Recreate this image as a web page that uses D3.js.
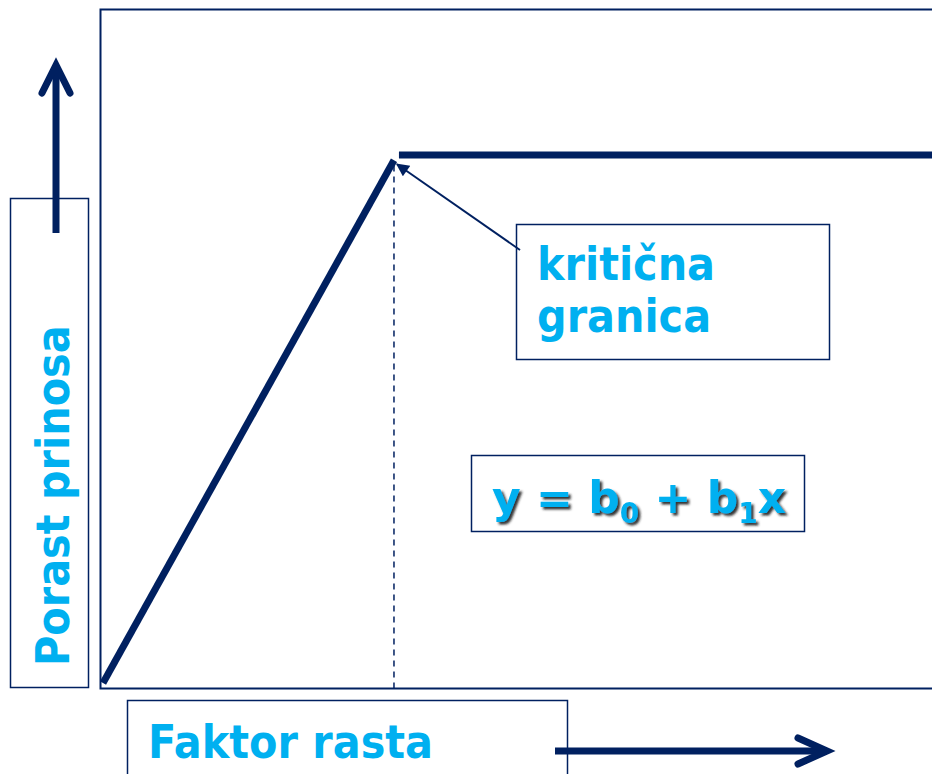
<!DOCTYPE html>
<html>
<head>
<meta charset="utf-8">
<script src="https://cdn.jsdelivr.net/npm/d3@7"></script>
<style>
  body { margin: 0; background: #fff; }
  svg { display: block; }
</style>
</head>
<body>
<svg id="chart" width="932" height="774"></svg>
<script>
// data, in relative units (0..100 on both axes)
var risePoints = [[0, 0], [35.1, 99]];
var plateauPoints = [[35.7, 100], [100, 100]];
var criticalX = 35.1;
var axisLabels = ['Porast prinosa', 'Faktor rasta'];
var noteLines = ['kritična', 'granica'];

var navy = '#002060';
var cyan = '#00b0f0';
var font = 'DejaVu Sans, Verdana, sans-serif';

var svg = d3.select('#chart');

var xScale = d3.scaleLinear().domain([0, 100]).range([103, 932]);
var yScale = d3.scaleLinear().domain([0, 100]).range([683, 155]);

var line = d3.line()
  .x(d => xScale(d[0]))
  .y(d => yScale(d[1]));

var defs = svg.append('defs');
defs.append('marker')
  .attr('id', 'head')
  .attr('viewBox', '0 0 10 10')
  .attr('refX', 9)
  .attr('refY', 5)
  .attr('markerWidth', 15)
  .attr('markerHeight', 13)
  .attr('markerUnits', 'userSpaceOnUse')
  .attr('orient', 'auto')
  .append('path')
  .attr('d', 'M0,0 L10,5 L0,10 z')
  .attr('fill', navy);

var shadow = defs.append('filter').attr('id', 'shadow')
  .attr('x', '-5%').attr('y', '-10%').attr('width', '115%').attr('height', '130%');
shadow.append('feDropShadow')
  .attr('dx', 2.5).attr('dy', 2.5).attr('stdDeviation', 0.8)
  .attr('flood-color', '#1a1a1a').attr('flood-opacity', 0.9);

// bold cyan label, slightly narrowed like the original face
function label(x, y, rot, size, txt) {
  return svg.append('text')
    .attr('transform', `translate(${x},${y}) rotate(${rot}) scale(0.9,1)`)
    .attr('font-family', font)
    .attr('font-weight', 'bold')
    .attr('font-size', size)
    .attr('fill', cyan)
    .text(txt);
}

// plot frame
svg.append('rect')
  .attr('x', 100.5).attr('y', 9.5)
  .attr('width', 850).attr('height', 679)
  .attr('fill', 'none').attr('stroke', navy).attr('stroke-width', 2);

// y label box
svg.append('rect')
  .attr('x', 10.5).attr('y', 198.5)
  .attr('width', 78).attr('height', 489)
  .attr('fill', 'none').attr('stroke', navy).attr('stroke-width', 1.5);

label(69, 666, -90, 46, axisLabels[0]);

// up arrow
svg.append('line')
  .attr('x1', 56).attr('y1', 233).attr('x2', 56).attr('y2', 66)
  .attr('stroke', navy).attr('stroke-width', 7);
svg.append('path')
  .attr('d', 'M42,93 L56,65 L70,93')
  .attr('fill', 'none').attr('stroke', navy).attr('stroke-width', 7)
  .attr('stroke-linecap', 'round');

// x label box
svg.append('rect')
  .attr('x', 127.5).attr('y', 700.5)
  .attr('width', 440).attr('height', 90)
  .attr('fill', 'none').attr('stroke', navy).attr('stroke-width', 1.5);

label(148, 758, 0, 46, axisLabels[1]);

// right arrow
svg.append('line')
  .attr('x1', 555).attr('y1', 751).attr('x2', 826).attr('y2', 751)
  .attr('stroke', navy).attr('stroke-width', 7);
svg.append('path')
  .attr('d', 'M798,738 L827,751 L798,764')
  .attr('fill', 'none').attr('stroke', navy).attr('stroke-width', 7)
  .attr('stroke-linecap', 'round');

// dashed critical line
svg.append('line')
  .attr('x1', xScale(criticalX)).attr('x2', xScale(criticalX))
  .attr('y1', yScale(98)).attr('y2', yScale(0) + 5)
  .attr('stroke', navy).attr('stroke-width', 1.5)
  .attr('stroke-dasharray', '6,5');

// response lines
svg.append('path')
  .datum(risePoints)
  .attr('d', line)
  .attr('fill', 'none').attr('stroke', navy).attr('stroke-width', 7);

svg.append('path')
  .datum(plateauPoints)
  .attr('d', line)
  .attr('fill', 'none').attr('stroke', navy).attr('stroke-width', 7);

// annotation
svg.append('line')
  .attr('x1', 520).attr('y1', 250)
  .attr('x2', xScale(criticalX) + 3).attr('y2', yScale(99) + 4)
  .attr('stroke', navy).attr('stroke-width', 2)
  .attr('marker-end', 'url(#head)');

svg.append('rect')
  .attr('x', 516.5).attr('y', 224.5)
  .attr('width', 313).attr('height', 135)
  .attr('fill', 'none').attr('stroke', navy).attr('stroke-width', 1.5);

noteLines.forEach((d, i) => label(537, 280 + i * 52, 0, 46, d));

// formula box
svg.append('rect')
  .attr('x', 471.5).attr('y', 455.5)
  .attr('width', 333).attr('height', 76)
  .attr('fill', 'none').attr('stroke', navy).attr('stroke-width', 1.5);

var f = svg.append('text')
  .attr('x', 492).attr('y', 513)
  .attr('font-family', font)
  .attr('font-weight', 'bold')
  .attr('font-size', 44)
  .attr('fill', cyan)
  .attr('filter', 'url(#shadow)');
f.append('tspan').text('y = b');
f.append('tspan').attr('font-size', 28).attr('dy', 10).text('0');
f.append('tspan').attr('dy', -10).text(' + b');
f.append('tspan').attr('font-size', 28).attr('dy', 10).text('1');
f.append('tspan').attr('dy', -10).text('x');
</script>
</body>
</html>
